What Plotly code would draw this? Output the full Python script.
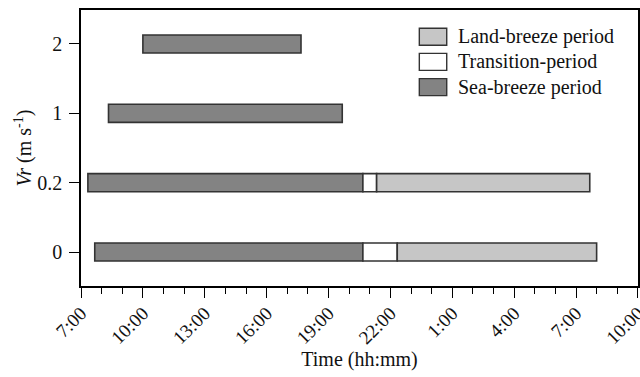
import datetime as dt
import plotly.graph_objects as go

# Wind-speed thresholds (category rows, bottom to top)
vr_levels = ["0", "0.2", "1", "2"]

# Period boundaries as clock times; "+1" marks the following day
sea_start = ["7:40", "7:20", "8:20", "10:00"]
sea_end = ["20:40", "20:40", "19:40", "17:40"]
trans_end = ["22:20", "21:20", None, None]
land_end = ["8:00+1", "7:40+1", None, None]

period_names = ["Land-breeze period", "Transition-period", "Sea-breeze period"]
period_colors = ["#c6c6c6", "#ffffff", "#838383"]

DAY0 = dt.datetime(2000, 1, 1)


def to_dt(t):
    if t is None:
        return None
    day = 0
    if t.endswith("+1"):
        day, t = 1, t[:-2]
    h, m = (int(v) for v in t.split(":"))
    return DAY0 + dt.timedelta(days=day, hours=h, minutes=m)


def segments(starts, ends):
    ys, bases, durs = [], [], []
    for y, s, e in zip(vr_levels, starts, ends):
        s, e = to_dt(s), to_dt(e)
        if s is None or e is None:
            continue
        ys.append(y)
        bases.append(s.strftime("%Y-%m-%d %H:%M"))
        durs.append((e - s).total_seconds() * 1000)
    return ys, bases, durs


FONT = "Liberation Serif"
BAR_W = 0.26
EDGE = dict(color="#333333", width=1.6)

fig = go.Figure()
parts = [
    ("Sea-breeze period", sea_start, sea_end, period_colors[2]),
    ("Transition-period", sea_end, trans_end, period_colors[1]),
    ("Land-breeze period", trans_end, land_end, period_colors[0]),
]
for name, s, e, col in parts:
    ys, bases, durs = segments(s, e)
    fig.add_trace(go.Bar(
        y=ys, x=durs, base=bases, orientation="h", name=name,
        width=BAR_W, marker=dict(color=col, line=EDGE), showlegend=False,
    ))

# Legend drawn as swatches with labels in the upper-right corner
shapes = []
annotations = []
x0, x1 = 0.6074, 0.6566
row_h = 25.2 / 276
top_c = (286 - 36.7) / 276
sw_h = 17 / 276
for i, (name, col) in enumerate(zip(period_names, period_colors)):
    yc = top_c - i * row_h
    shapes.append(dict(
        type="rect", xref="paper", yref="paper",
        x0=x0, x1=x1, y0=yc - sw_h / 2, y1=yc + sw_h / 2,
        fillcolor=col, line=dict(color="#333333", width=1.4),
    ))
    annotations.append(dict(
        xref="paper", yref="paper", x=x1 + 0.017, y=yc,
        text=name, showarrow=False, xanchor="left", yanchor="middle",
        font=dict(family=FONT, size=20, color="#111111"),
    ))

fig.update_layout(
    width=640, height=377,
    margin=dict(l=81, r=2, t=10, b=91),
    paper_bgcolor="white", plot_bgcolor="white",
    barmode="overlay",
    font=dict(family=FONT, size=19, color="#111111"),
    shapes=shapes, annotations=annotations,
    showlegend=False,
)
fig.update_xaxes(
    type="date",
    range=["2000-01-01 07:00", "2000-01-02 10:00:20"],
    tick0="2000-01-01 07:00", dtick=3 * 3600000,
    tickformat="%-H:%M", tickangle=-45,
    ticklabeloverflow="allow", ticklabelstandoff=-3,
    ticks="outside", ticklen=10, tickwidth=1.3, tickcolor="black",
    minor=dict(dtick=3600000, ticks="outside", ticklen=6, tickwidth=1.3, tickcolor="black"),
    showline=True, linecolor="black", linewidth=1.5, mirror=True,
    showgrid=False, zeroline=False,
    title=dict(text="Time (hh:mm)", font=dict(family=FONT, size=20), standoff=0),
    automargin=False,
)
fig.update_yaxes(
    type="category", categoryorder="array", categoryarray=vr_levels,
    range=[-0.49, 3.49],
    tickfont=dict(size=20), ticklabelstandoff=3,
    ticks="outside", ticklen=10, tickwidth=1.3, tickcolor="black",
    showline=True, linecolor="black", linewidth=1.5, mirror=True,
    showgrid=False, zeroline=False,
    title=dict(text="<i>Vr</i> (m s<sup>-1</sup>)", font=dict(family=FONT, size=20), standoff=0),
    automargin=False,
)

fig.write_html("out.html")
